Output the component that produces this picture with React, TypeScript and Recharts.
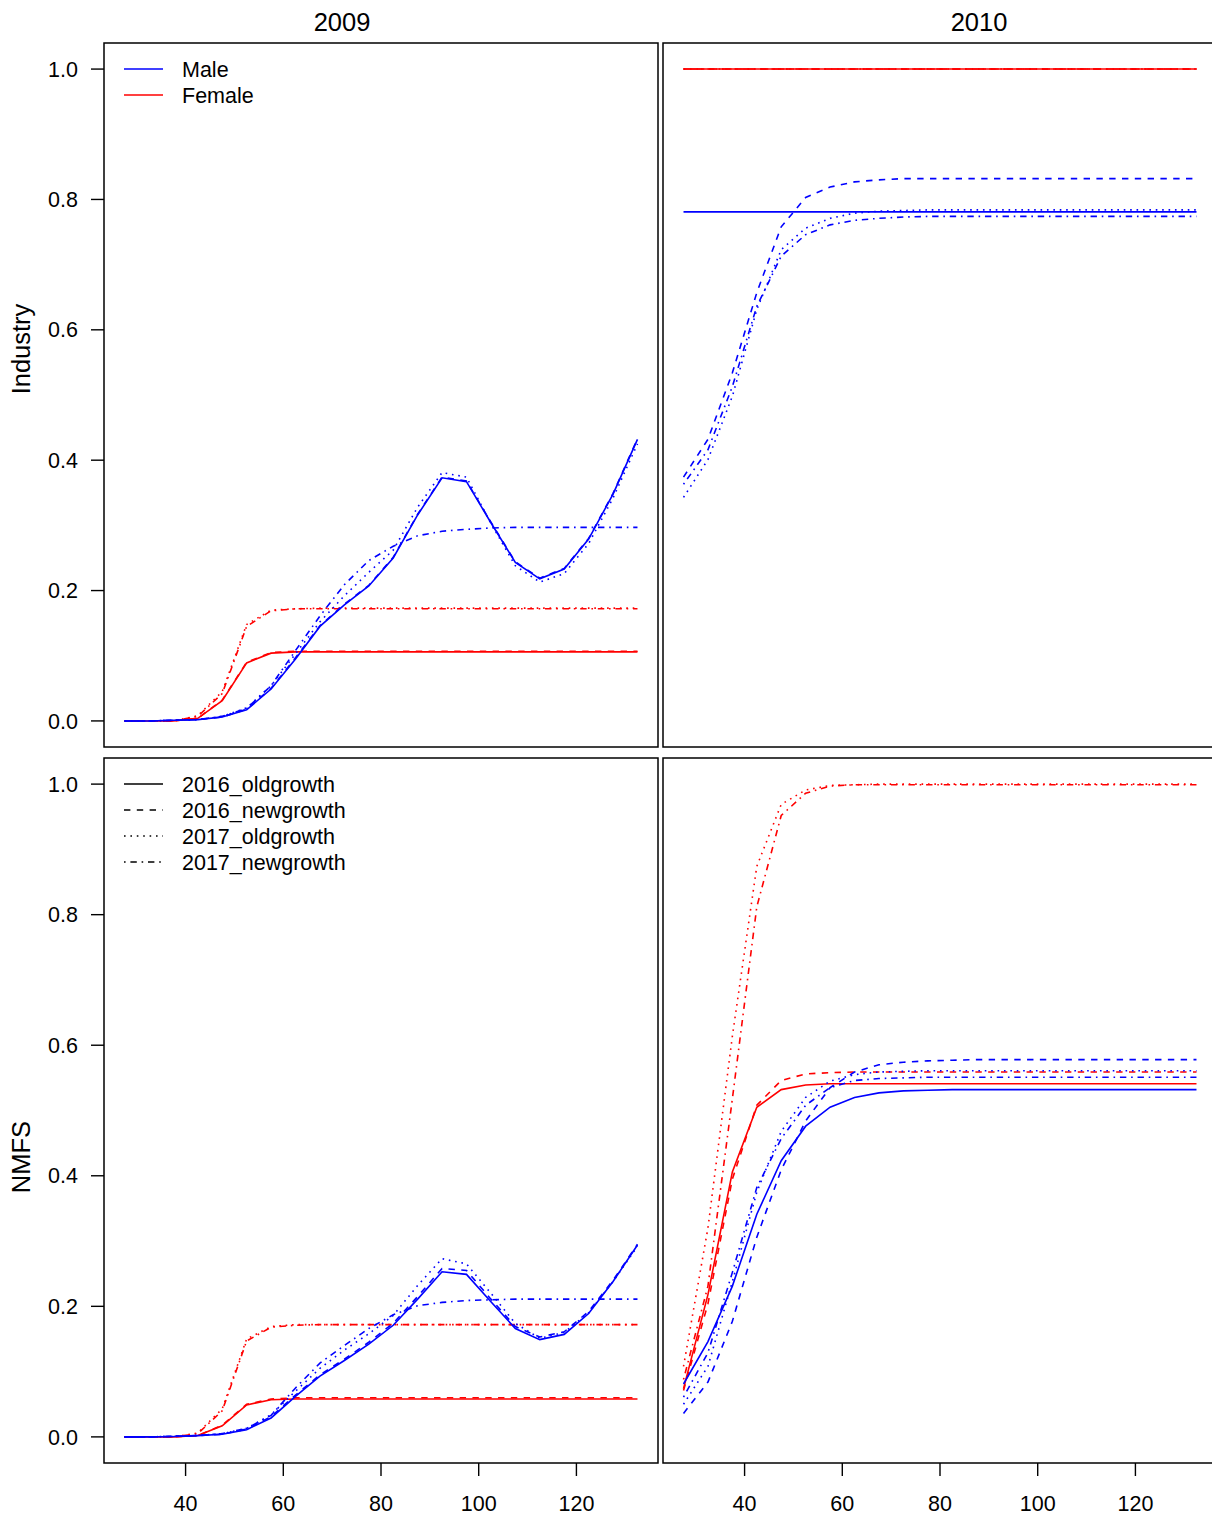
import React from 'react';
import { LineChart, Line, XAxis, YAxis } from 'recharts';

const FONT = '"Liberation Sans", Arial, Helvetica, sans-serif';

// ---- data ----
const lengths = [27.5, 32.5, 37.5, 42.5, 47.5, 52.5, 57.5, 62.5, 67.5, 72.5, 77.5, 82.5, 87.5, 92.5, 97.5, 102.5, 107.5, 112.5, 117.5, 122.5, 127.5, 132.5];

// Industry 2009
const ind09MaleOld16 = [0, 0, 0.001, 0.002, 0.006, 0.017, 0.049, 0.095, 0.145, 0.178, 0.207, 0.25, 0.316, 0.373, 0.367, 0.304, 0.243, 0.218, 0.233, 0.279, 0.348, 0.432];
const ind09MaleNew16 = [0, 0, 0.001, 0.002, 0.006, 0.018, 0.05, 0.097, 0.146, 0.179, 0.208, 0.251, 0.317, 0.374, 0.368, 0.305, 0.244, 0.219, 0.234, 0.28, 0.349, 0.433];
const ind09MaleOld17 = [0, 0, 0.001, 0.002, 0.007, 0.02, 0.054, 0.103, 0.152, 0.192, 0.228, 0.262, 0.328, 0.381, 0.374, 0.303, 0.238, 0.213, 0.226, 0.272, 0.342, 0.425];
const ind09MaleNew17 = [0, 0, 0.001, 0.002, 0.007, 0.019, 0.054, 0.108, 0.161, 0.209, 0.246, 0.268, 0.284, 0.291, 0.294, 0.296, 0.297, 0.297, 0.297, 0.297, 0.297, 0.297];
const ind09FemOld16 = [0, 0, 0, 0.004, 0.031, 0.089, 0.104, 0.106, 0.106, 0.106, 0.106, 0.106, 0.106, 0.106, 0.106, 0.106, 0.106, 0.106, 0.106, 0.106, 0.106, 0.106];
const ind09FemNew16 = [0, 0, 0, 0.004, 0.032, 0.09, 0.105, 0.107, 0.107, 0.107, 0.107, 0.107, 0.107, 0.107, 0.107, 0.107, 0.107, 0.107, 0.107, 0.107, 0.107, 0.107];
const ind09FemOld17 = [0, 0, 0, 0.008, 0.045, 0.148, 0.17, 0.172, 0.173, 0.173, 0.173, 0.173, 0.173, 0.173, 0.173, 0.173, 0.173, 0.173, 0.173, 0.173, 0.173, 0.173];
const ind09FemNew17 = [0, 0, 0, 0.007, 0.042, 0.145, 0.169, 0.172, 0.172, 0.172, 0.172, 0.172, 0.172, 0.172, 0.172, 0.172, 0.172, 0.172, 0.172, 0.172, 0.172, 0.172];

// Industry 2010
const ind10MaleOld16 = [0.781, 0.781, 0.781, 0.781, 0.781, 0.781, 0.781, 0.781, 0.781, 0.781, 0.781, 0.781, 0.781, 0.781, 0.781, 0.781, 0.781, 0.781, 0.781, 0.781, 0.781, 0.781];
const ind10MaleNew16 = [0.374, 0.432, 0.534, 0.657, 0.758, 0.803, 0.819, 0.827, 0.83, 0.832, 0.832, 0.832, 0.832, 0.832, 0.832, 0.832, 0.832, 0.832, 0.832, 0.832, 0.832, 0.832];
const ind10MaleOld17 = [0.343, 0.401, 0.498, 0.631, 0.723, 0.756, 0.771, 0.779, 0.782, 0.783, 0.784, 0.784, 0.784, 0.784, 0.784, 0.784, 0.784, 0.784, 0.784, 0.784, 0.784, 0.784];
const ind10MaleNew17 = [0.363, 0.416, 0.513, 0.636, 0.713, 0.746, 0.761, 0.768, 0.771, 0.773, 0.774, 0.774, 0.774, 0.774, 0.774, 0.774, 0.774, 0.774, 0.774, 0.774, 0.774, 0.774];
const ind10FemOld16 = [1, 1, 1, 1, 1, 1, 1, 1, 1, 1, 1, 1, 1, 1, 1, 1, 1, 1, 1, 1, 1, 1];
const ind10FemNew16 = [1, 1, 1, 1, 1, 1, 1, 1, 1, 1, 1, 1, 1, 1, 1, 1, 1, 1, 1, 1, 1, 1];
const ind10FemOld17 = [1, 1, 1, 1, 1, 1, 1, 1, 1, 1, 1, 1, 1, 1, 1, 1, 1, 1, 1, 1, 1, 1];
const ind10FemNew17 = [1, 1, 1, 1, 1, 1, 1, 1, 1, 1, 1, 1, 1, 1, 1, 1, 1, 1, 1, 1, 1, 1];

// NMFS 2009
const nm09MaleOld16 = [0, 0, 0.0005, 0.002, 0.004, 0.011, 0.029, 0.062, 0.093, 0.117, 0.142, 0.171, 0.211, 0.253, 0.249, 0.207, 0.166, 0.149, 0.157, 0.189, 0.238, 0.294];
const nm09MaleNew16 = [0, 0, 0.001, 0.002, 0.004, 0.012, 0.031, 0.064, 0.095, 0.119, 0.145, 0.174, 0.215, 0.258, 0.255, 0.211, 0.169, 0.153, 0.161, 0.192, 0.24, 0.295];
const nm09MaleOld17 = [0, 0, 0.001, 0.002, 0.005, 0.013, 0.034, 0.07, 0.105, 0.133, 0.158, 0.186, 0.232, 0.273, 0.265, 0.22, 0.174, 0.151, 0.16, 0.19, 0.238, 0.292];
const nm09MaleNew17 = [0, 0, 0.001, 0.002, 0.005, 0.013, 0.033, 0.075, 0.113, 0.14, 0.166, 0.187, 0.201, 0.206, 0.209, 0.21, 0.211, 0.211, 0.211, 0.211, 0.211, 0.211];
const nm09FemOld16 = [0, 0, 0, 0.002, 0.017, 0.049, 0.057, 0.058, 0.058, 0.058, 0.058, 0.058, 0.058, 0.058, 0.058, 0.058, 0.058, 0.058, 0.058, 0.058, 0.058, 0.058];
const nm09FemNew16 = [0, 0, 0, 0.002, 0.018, 0.05, 0.058, 0.06, 0.06, 0.06, 0.06, 0.06, 0.06, 0.06, 0.06, 0.06, 0.06, 0.06, 0.06, 0.06, 0.06, 0.06];
const nm09FemOld17 = [0, 0, 0, 0.006, 0.043, 0.15, 0.169, 0.172, 0.172, 0.172, 0.172, 0.172, 0.172, 0.172, 0.172, 0.172, 0.172, 0.172, 0.172, 0.172, 0.172, 0.172];
const nm09FemNew17 = [0, 0, 0, 0.005, 0.04, 0.147, 0.168, 0.171, 0.172, 0.172, 0.172, 0.172, 0.172, 0.172, 0.172, 0.172, 0.172, 0.172, 0.172, 0.172, 0.172, 0.172];

// NMFS 2010
const nm10MaleOld16 = [0.081, 0.146, 0.231, 0.341, 0.423, 0.476, 0.505, 0.52, 0.527, 0.53, 0.531, 0.532, 0.532, 0.532, 0.532, 0.532, 0.532, 0.532, 0.532, 0.532, 0.532, 0.532];
const nm10MaleNew16 = [0.036, 0.084, 0.177, 0.306, 0.409, 0.484, 0.535, 0.559, 0.57, 0.574, 0.576, 0.577, 0.578, 0.578, 0.578, 0.578, 0.578, 0.578, 0.578, 0.578, 0.578, 0.578];
const nm10MaleOld17 = [0.05, 0.108, 0.238, 0.375, 0.468, 0.52, 0.545, 0.555, 0.559, 0.56, 0.561, 0.561, 0.561, 0.561, 0.561, 0.561, 0.561, 0.561, 0.561, 0.561, 0.561, 0.561];
const nm10MaleNew17 = [0.061, 0.129, 0.252, 0.382, 0.457, 0.508, 0.535, 0.546, 0.549, 0.55, 0.551, 0.551, 0.551, 0.551, 0.551, 0.551, 0.551, 0.551, 0.551, 0.551, 0.551, 0.551];
const nm10FemOld16 = [0.074, 0.218, 0.406, 0.505, 0.532, 0.539, 0.541, 0.541, 0.541, 0.541, 0.541, 0.541, 0.541, 0.541, 0.541, 0.541, 0.541, 0.541, 0.541, 0.541, 0.541, 0.541];
const nm10FemNew16 = [0.071, 0.204, 0.395, 0.508, 0.546, 0.556, 0.558, 0.559, 0.559, 0.559, 0.559, 0.559, 0.559, 0.559, 0.559, 0.559, 0.559, 0.559, 0.559, 0.559, 0.559, 0.559];
const nm10FemOld17 = [0.108, 0.32, 0.614, 0.874, 0.969, 0.991, 0.998, 0.999, 1, 1, 1, 1, 1, 1, 1, 1, 1, 1, 1, 1, 1, 1];
const nm10FemNew17 = [0.088, 0.231, 0.518, 0.812, 0.952, 0.986, 0.997, 0.999, 0.999, 0.999, 0.999, 0.999, 0.999, 0.999, 0.999, 0.999, 0.999, 0.999, 0.999, 0.999, 0.999, 0.999];

const xTicks = [40, 60, 80, 100, 120];
const yTicks = [0, 0.2, 0.4, 0.6, 0.8, 1.0];
const panelTitles = ['2009', '2010'];
const rowTitles = ['Industry', 'NMFS'];
const sexLabels = ['Male', 'Female'];
const typeLabels = ['2016_oldgrowth', '2016_newgrowth', '2017_oldgrowth', '2017_newgrowth'];

// ---- styling ----
const X_DOMAIN: [number, number] = [23.3, 136.7];
const Y_DOMAIN: [number, number] = [-0.04, 1.04];
const BLUE = '#0000FF';
const RED = '#FF0000';
const LW = 1.6;
const FS = 21.5;
const DASHES = [undefined, '6.4 6.4', '1.6 4.8', '1.6 4.8 6.4 4.8'];

const SERIES = [
  { key: 'f0', color: RED, dash: DASHES[0] },
  { key: 'f1', color: RED, dash: DASHES[1] },
  { key: 'f2', color: RED, dash: DASHES[2] },
  { key: 'f3', color: RED, dash: DASHES[3] },
  { key: 'm0', color: BLUE, dash: DASHES[0] },
  { key: 'm1', color: BLUE, dash: DASHES[1] },
  { key: 'm2', color: BLUE, dash: DASHES[2] },
  { key: 'm3', color: BLUE, dash: DASHES[3] },
];

function buildRows(male: number[][], fem: number[][]) {
  return lengths.map((len, i) => ({
    len,
    m0: male[0][i], m1: male[1][i], m2: male[2][i], m3: male[3][i],
    f0: fem[0][i], f1: fem[1][i], f2: fem[2][i], f3: fem[3][i],
  }));
}

const rowsInd09 = buildRows([ind09MaleOld16, ind09MaleNew16, ind09MaleOld17, ind09MaleNew17], [ind09FemOld16, ind09FemNew16, ind09FemOld17, ind09FemNew17]);
const rowsInd10 = buildRows([ind10MaleOld16, ind10MaleNew16, ind10MaleOld17, ind10MaleNew17], [ind10FemOld16, ind10FemNew16, ind10FemOld17, ind10FemNew17]);
const rowsNm09 = buildRows([nm09MaleOld16, nm09MaleNew16, nm09MaleOld17, nm09MaleNew17], [nm09FemOld16, nm09FemNew16, nm09FemOld17, nm09FemNew17]);
const rowsNm10 = buildRows([nm10MaleOld16, nm10MaleNew16, nm10MaleOld17, nm10MaleNew17], [nm10FemOld16, nm10FemNew16, nm10FemOld17, nm10FemNew17]);

const tickStyle = { fill: '#000', fontSize: FS, fontFamily: FONT };
const tickLineStyle = { stroke: '#000', strokeWidth: 1.4 };

function Panel(props: { rows: any[]; left: number; top: number; width: number; height: number; marginTop: number; showX: boolean; showY: boolean }) {
  const { rows, left, top, width, height, marginTop, showX, showY } = props;
  return (
    <div style={{ position: 'absolute', left, top }}>
      <LineChart width={width} height={height} data={rows} margin={{ top: marginTop, right: 0, bottom: 0, left: 0 }}>
        <XAxis
          dataKey="len"
          type="number"
          domain={X_DOMAIN}
          ticks={xTicks}
          interval={0}
          hide={!showX}
          height={56}
          axisLine={false}
          tickLine={tickLineStyle}
          tickSize={13}
          tickMargin={20}
          tick={tickStyle}
          allowDataOverflow
        />
        <YAxis
          type="number"
          domain={Y_DOMAIN}
          ticks={yTicks}
          interval={0}
          hide={!showY}
          width={104}
          axisLine={false}
          tickLine={tickLineStyle}
          tickSize={13}
          tickMargin={13}
          tick={tickStyle}
          tickFormatter={(v: number) => v.toFixed(1)}
          allowDataOverflow
        />
        {SERIES.map((s) => (
          <Line
            key={s.key}
            dataKey={s.key}
            type="linear"
            stroke={s.color}
            strokeWidth={LW}
            strokeDasharray={s.dash}
            dot={false}
            activeDot={false}
            isAnimationActive={false}
          />
        ))}
      </LineChart>
    </div>
  );
}

function Overlay() {
  const boxes = [
    [104, 43, 554, 704],
    [663, 43, 554, 704],
    [104, 758, 554, 705],
    [663, 758, 554, 705],
  ];
  return (
    <svg width={1212} height={1519} style={{ position: 'absolute', left: 0, top: 0, pointerEvents: 'none' }} fontFamily={FONT}>
      {boxes.map((b, i) => (
        <rect key={i} x={b[0]} y={b[1]} width={b[2]} height={b[3]} fill="none" stroke="#000" strokeWidth={1.5} />
      ))}
      <text x={342} y={30.5} fontSize={25.5} textAnchor="middle" fill="#000">{panelTitles[0]}</text>
      <text x={979} y={30.5} fontSize={25.5} textAnchor="middle" fill="#000">{panelTitles[1]}</text>
      <text transform="translate(30,349) rotate(-90)" fontSize={25.5} textAnchor="middle" fill="#000">{rowTitles[0]}</text>
      <text transform="translate(30,1157) rotate(-90)" fontSize={25.5} textAnchor="middle" fill="#000">{rowTitles[1]}</text>
      {/* sex legend */}
      {[BLUE, RED].map((c, i) => (
        <g key={c}>
          <line x1={124} x2={163} y1={69 + i * 26} y2={69 + i * 26} stroke={c} strokeWidth={LW} />
          <text x={182} y={76.5 + i * 26} fontSize={FS} fill="#000">{sexLabels[i]}</text>
        </g>
      ))}
      {/* type legend */}
      {typeLabels.map((t, i) => (
        <g key={t}>
          <line x1={124} x2={163} y1={784 + i * 26} y2={784 + i * 26} stroke="#000" strokeWidth={LW} strokeDasharray={DASHES[i]} />
          <text x={182} y={791.5 + i * 26} fontSize={FS} fill="#000">{t}</text>
        </g>
      ))}
    </svg>
  );
}

export default function App() {
  return (
    <div style={{ position: 'absolute', left: 0, top: 0, width: 1212, height: 1519, overflow: 'hidden', background: '#fff' }}>
      <Panel rows={rowsInd09} left={0} top={0} width={658} height={747} marginTop={43} showX={false} showY={true} />
      <Panel rows={rowsInd10} left={663} top={0} width={554} height={747} marginTop={43} showX={false} showY={false} />
      <Panel rows={rowsNm09} left={0} top={738} width={658} height={781} marginTop={20} showX={true} showY={true} />
      <Panel rows={rowsNm10} left={663} top={738} width={554} height={781} marginTop={20} showX={true} showY={false} />
      <Overlay />
    </div>
  );
}
